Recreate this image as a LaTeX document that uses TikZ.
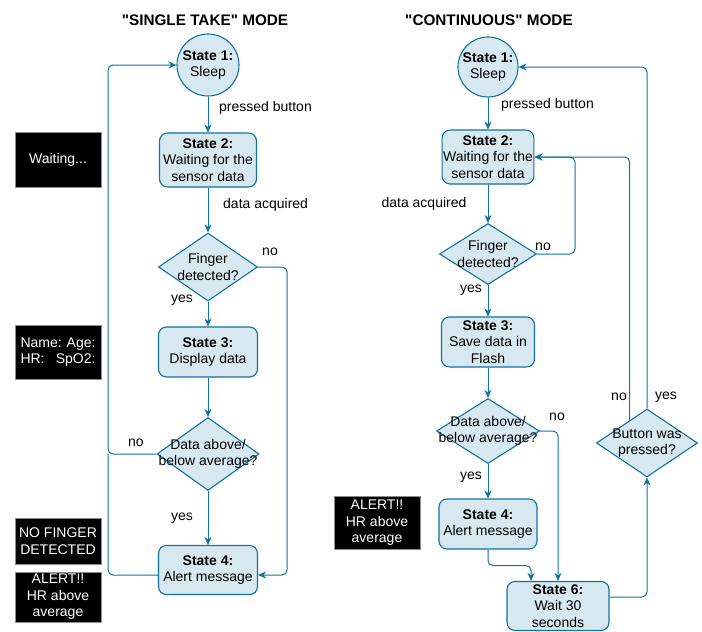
\documentclass[tikz,border=0pt]{standalone}
\usepackage{fontspec}
\setmainfont{Liberation Sans}
\newfontfamily\titlefont{Liberation Sans}
\usetikzlibrary{shapes.geometric,arrows.meta,calc}
\definecolor{linec}{HTML}{10739E}
\definecolor{fillc}{HTML}{D8E8F1}
\begin{document}
\begin{tikzpicture}[x=1pt,y=-1pt,
  every node/.style={font=\fontsize{14pt}{16.5pt}\selectfont},
  title/.style={font=\titlefont\fontsize{15.3pt}{17pt}\selectfont\bfseries},
  statebox/.style={draw=linec,fill=fillc,line width=1.1pt,rounded corners=8pt,align=center,inner sep=1pt},
  sleepnode/.style={circle,draw=linec,fill=fillc,line width=1.1pt,align=center,inner sep=0pt},
  decision/.style={diamond,draw=linec,fill=fillc,line width=1.1pt,inner sep=0pt},
  dtext/.style={align=center,inner sep=0pt},
  lcd/.style={fill=black,draw=black!45,line width=0.6pt,text=white,align=center,inner sep=1pt},
  conn/.style={draw=linec,line width=1pt,rounded corners=5pt,-{Stealth[length=8pt,width=7pt,inset=2.5pt]}},
  plain/.style={draw=linec,line width=1pt,rounded corners=5pt},
  lbl/.style={inner sep=0pt}]
\useasboundingbox (0,0) rectangle (702,632);

% ---------------- SINGLE TAKE ----------------
\node[title] (t1) at (205,20) {"SINGLE TAKE" MODE};
\node[sleepnode,minimum size=62pt] (c1) at (208,65) {\textbf{State 1:}\\Sleep};
\node[statebox,minimum width=97pt,minimum height=54pt] (s2) at (208,160) {\textbf{State 2:}\\Waiting for the\\sensor data};
\node[decision,minimum width=99pt,minimum height=68pt] (d1) at (208,267) {};
\node[dtext] (d1t) at (d1) {Finger\\detected?};
\node[statebox,minimum width=99pt,minimum height=50pt] (s3) at (208,352) {\textbf{State 3:}\\Display data};
\node[decision,minimum width=102pt,minimum height=73pt] (d2) at (208,454) {};
\node[dtext] (d2t) at (d2) {Data above/\\below average?};
\node[statebox,minimum width=99pt,minimum height=49pt] (s4) at (208,570) {\textbf{State 4:}\\Alert message};
\coordinate (L) at (108,0);

\draw[conn] (c1) -- (s2);
\draw[conn] (s2) -- (d1);
\draw[conn] (d1) -- (s3);
\draw[conn] (s3) -- (d2);
\draw[conn] (d2) -- (s4);
\draw[conn] (d1.east) -- ++(29,0) |- ([yshift=-5pt]s4.east);
\draw[conn] (d2.west) -| (L |- c1.west) -- (c1.west);
\draw[plain] ([yshift=-5pt]s4.west) -| (L |- d2.west);

\node[lbl,anchor=west] (l1) at (219,108) {pressed button};
\node[lbl,anchor=west] (l2) at (223,205) {data acquired};
\node[lbl] (l3) at (270,252) {no};
\node[lbl] (l4) at (182,300) {yes};
\node[lbl] (l5) at (136,443) {no};
\node[lbl] (l6) at (182,518) {yes};

\node[lcd,minimum width=86pt,minimum height=55pt] (b1) at (58,160) {Waiting...};
\node[lcd,minimum width=86pt,minimum height=54pt] (b2) at (58,352) {\makebox[75pt]{Name:\hfill Age:}\\\makebox[75pt]{HR:\hfill SpO2:}};
\node[lcd,minimum width=86pt,minimum height=46pt] (b3) at (58,541) {NO FINGER\\DETECTED};
\node[lcd,minimum width=86pt,minimum height=50pt] (b4) at (58,597) {ALERT!!\\HR above\\average};

% ---------------- CONTINUOUS ----------------
\node[title] (t2) at (489,20) {"CONTINUOUS" MODE};
\node[sleepnode,minimum size=60pt] (k1) at (488,67) {\textbf{State 1:}\\Sleep};
\node[statebox,minimum width=91pt,minimum height=54pt] (k2) at (488,157) {\textbf{State 2:}\\Waiting for the\\sensor data};
\node[decision,minimum width=97pt,minimum height=61pt] (kd1) at (488,254) {};
\node[dtext] (kd1t) at (kd1) {Finger\\detected?};
\node[statebox,minimum width=93pt,minimum height=50pt] (k3) at (488,342) {\textbf{State 3:}\\Save data in\\Flash};
\node[decision,minimum width=103pt,minimum height=65pt] (kd2) at (488,431) {};
\node[dtext] (kd2t) at (kd2) {Data above/\\below average?};
\node[statebox,minimum width=98pt,minimum height=50pt] (k4) at (488,524) {\textbf{State 4:}\\Alert message};
\node[statebox,minimum width=102pt,minimum height=49pt] (k6) at (558,606) {\textbf{State 6:}\\Wait 30\\seconds};
\node[decision,minimum width=101pt,minimum height=68pt] (kb) at (647,443) {};
\node[dtext] (kbt) at (kb) {Button was\\pressed?};
\coordinate (R1) at (575,0);
\coordinate (kbno) at ($(kb.north)!0.34!(kb.west)$);

\draw[conn] (k1) -- (k2);
\draw[conn] (k2) -- (kd1);
\draw[conn] (kd1) -- (k3);
\draw[conn] (k3) -- (kd2);
\draw[conn] (kd2) -- (k4);
\draw[conn] (kd1.east) -| (R1 |- k2.east) -- (k2.east);
\draw[conn] (kbno) |- (k2.east);
\draw[conn] (kb.north) |- (k1.east);
\draw[conn] (kd2.east) -| (k6.north);
\draw[conn] (k4.south) -- ++(0,16) -| ([xshift=-27pt]k6.north);
\draw[conn] ([yshift=9pt]k6.east) -| (kb.south);

\node[lbl,anchor=west] (m1) at (501,105) {pressed button};
\node[lbl] (m2) at (424,204) {data acquired};
\node[lbl] (m3) at (543,247) {no};
\node[lbl] (m4) at (471,290) {yes};
\node[lbl] (m5) at (557,417) {no};
\node[lbl] (m6) at (471,477) {yes};
\node[lbl] (m7) at (619,397) {no};
\node[lbl] (m8) at (666,397) {yes};

\node[lcd,minimum width=86pt,minimum height=53pt] (b5) at (377,523) {ALERT!!\\HR above\\average};
\end{tikzpicture}
\end{document}
